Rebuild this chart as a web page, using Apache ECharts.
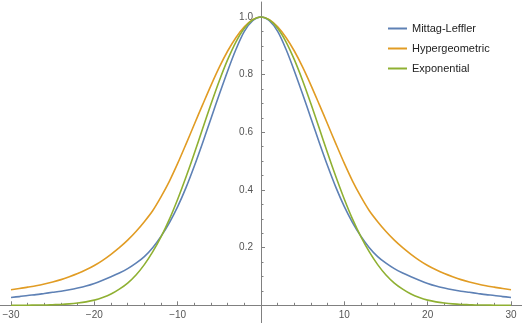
<!DOCTYPE html>
<html>
<head>
<meta charset="utf-8">
<script src="https://cdn.jsdelivr.net/npm/echarts@6/dist/echarts.min.js"></script>
<style>html,body{margin:0;padding:0;background:#fff;}#c{width:522px;height:323px;}</style>
</head>
<body>
<div id="c"></div>
<script>
const seriesNames = ['Mittag-Leffler', 'Hypergeometric', 'Exponential'];
const xValues = [-30,-29,-28,-27,-26,-25,-24,-23,-22,-21,-20,-19,-18,-17,-16,-15,-14,-13,-12,-11,-10,-9,-8,-7,-6,-5,-4,-3,-2,-1,0,1,2,3,4,5,6,7,8,9,10,11,12,13,14,15,16,17,18,19,20,21,22,23,24,25,26,27,28,29,30];
const mittagLeffler = [0.027,0.030,0.034,0.037,0.041,0.045,0.049,0.054,0.060,0.067,0.076,0.087,0.099,0.112,0.127,0.146,0.169,0.200,0.239,0.286,0.342,0.408,0.483,0.564,0.648,0.732,0.813,0.888,0.950,0.987,1.000,0.987,0.950,0.888,0.813,0.732,0.648,0.564,0.483,0.408,0.342,0.286,0.239,0.200,0.169,0.146,0.127,0.112,0.099,0.087,0.076,0.067,0.060,0.054,0.049,0.045,0.041,0.037,0.034,0.030,0.027];
const hypergeometric = [0.054,0.058,0.063,0.068,0.074,0.081,0.089,0.099,0.110,0.123,0.138,0.156,0.177,0.200,0.226,0.256,0.290,0.328,0.376,0.430,0.492,0.559,0.628,0.696,0.763,0.826,0.882,0.929,0.966,0.991,1.000,0.991,0.966,0.929,0.882,0.826,0.763,0.696,0.628,0.559,0.492,0.430,0.376,0.328,0.290,0.256,0.226,0.200,0.177,0.156,0.138,0.123,0.110,0.099,0.089,0.081,0.074,0.068,0.063,0.058,0.054];
const exponential = [0.000,0.000,0.000,0.001,0.001,0.002,0.003,0.005,0.008,0.012,0.018,0.027,0.039,0.056,0.077,0.105,0.141,0.185,0.237,0.298,0.368,0.445,0.527,0.613,0.698,0.779,0.852,0.914,0.961,0.990,1.000,0.990,0.961,0.914,0.852,0.779,0.698,0.613,0.527,0.445,0.368,0.298,0.237,0.185,0.141,0.105,0.077,0.056,0.039,0.027,0.018,0.012,0.008,0.005,0.003,0.002,0.001,0.001,0.000,0.000,0.000];
const xMajorTicks = [-30,-20,-10,10,20,30];
const xMinorTicks = [-28,-26,-24,-22,-18,-16,-14,-12,-8,-6,-4,-2,2,4,6,8,12,14,16,18,22,24,26,28];
const yMajorTicks = [0.2,0.4,0.6,0.8,1.0];
const yMinorTicks = [0.05,0.1,0.15,0.25,0.3,0.35,0.45,0.5,0.55,0.65,0.7,0.75,0.85,0.9,0.95];
const colors = ['#5E81B5', '#E19C24', '#8FB032'];

const FONT = 'Liberation Sans';
const axisColor = '#808080';
function pairs(ys) { return xValues.map((x, i) => [x, ys[i]]); }
function fmtX(v) { return v < 0 ? '\u2212' + Math.abs(v) : String(v); }

const W = 522, H = 323;
const xRange = { min: -31.32, max: 31.32 };
const yRange = { min: -0.0614, max: 1.052 };
const gridTop = 2;
// offsets so the axes sit at the data zero lines
const plotH = H - gridTop;
const xAxisOffset = -plotH * (0 - yRange.min) / (yRange.max - yRange.min);
const yAxisOffset = -W * (0 - xRange.min) / (xRange.max - xRange.min);

const chart = echarts.init(document.getElementById('c'), null, { renderer: 'canvas' });
chart.setOption({
  animation: false,
  color: colors,
  grid: { left: 0, right: 0, top: gridTop, bottom: 0, containLabel: false, outerBoundsMode: 'none' },
  legend: {
    orient: 'vertical', left: 383, top: 18, padding: 5,
    icon: 'rect', itemWidth: 19, itemHeight: 2, itemGap: 9,
    textStyle: { fontFamily: FONT, fontSize: 11, color: '#222' },
    data: seriesNames
  },
  xAxis: [
    {
      type: 'value', min: xRange.min, max: xRange.max, position: 'bottom', offset: xAxisOffset,
      axisLine: { show: true, onZero: false, lineStyle: { color: axisColor, width: 1 } },
      axisTick: { show: true, inside: true, length: 4, customValues: xMajorTicks, lineStyle: { color: axisColor } },
      axisLabel: { show: true, customValues: xMajorTicks, formatter: fmtX, margin: 5, fontFamily: FONT, fontSize: 10, color: '#555' },
      splitLine: { show: false }
    },
    {
      type: 'value', min: xRange.min, max: xRange.max, position: 'bottom', offset: xAxisOffset,
      axisLine: { show: false, onZero: false },
      axisTick: { show: true, inside: true, length: 2.5, customValues: xMinorTicks, lineStyle: { color: axisColor } },
      axisLabel: { show: false },
      splitLine: { show: false }
    }
  ],
  yAxis: [
    {
      type: 'value', min: yRange.min, max: yRange.max, position: 'left', offset: yAxisOffset,
      axisLine: { show: true, onZero: false, lineStyle: { color: axisColor, width: 1 } },
      axisTick: { show: true, inside: true, length: 4, customValues: yMajorTicks, lineStyle: { color: axisColor } },
      axisLabel: { show: true, customValues: yMajorTicks, formatter: v => v.toFixed(1), margin: 8, fontFamily: FONT, fontSize: 10, color: '#555' },
      splitLine: { show: false }
    },
    {
      type: 'value', min: yRange.min, max: yRange.max, position: 'left', offset: yAxisOffset,
      axisLine: { show: false, onZero: false },
      axisTick: { show: true, inside: true, length: 2.5, customValues: yMinorTicks, lineStyle: { color: axisColor } },
      axisLabel: { show: false },
      splitLine: { show: false }
    }
  ],
  series: [
    { name: seriesNames[0], type: 'line', data: pairs(mittagLeffler), symbol: 'none', smooth: 0.3, lineStyle: { width: 1.6 }, z: 3 },
    { name: seriesNames[1], type: 'line', data: pairs(hypergeometric), symbol: 'none', smooth: 0.3, lineStyle: { width: 1.6 }, z: 2 },
    { name: seriesNames[2], type: 'line', data: pairs(exponential), symbol: 'none', smooth: 0.3, lineStyle: { width: 1.6 }, z: 4 }
  ]
});
</script>
</body>
</html>
